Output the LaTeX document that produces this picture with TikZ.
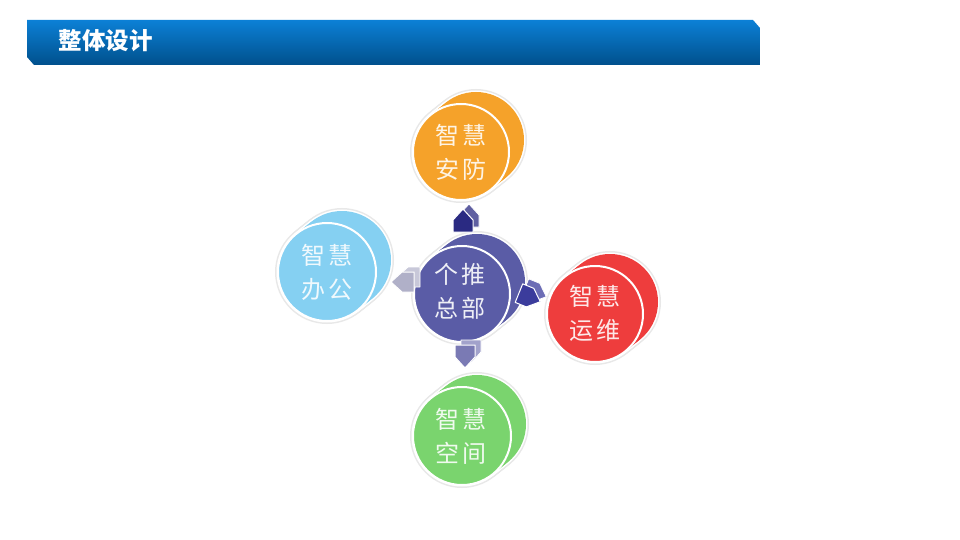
\documentclass[tikz,border=0pt]{standalone}
\usepackage{fontspec}
\newfontfamily\cjk{Noto Sans CJK SC}
\definecolor{cOrange}{HTML}{F5A22A}
\definecolor{cBlue}{HTML}{85D0F2}
\definecolor{cPurple}{HTML}{5A5CA6}
\definecolor{cRed}{HTML}{EE3D3D}
\definecolor{cGreen}{HTML}{7AD46E}
\definecolor{barTop}{HTML}{0C80D6}
\definecolor{barBot}{HTML}{00508C}
\definecolor{arNavy}{HTML}{2A2A82}
\definecolor{arNavy2}{HTML}{3B3C9C}
\definecolor{arLight}{HTML}{B0B0C8}
\definecolor{arMid}{HTML}{7A7AB4}
\tikzset{
  x=1pt, y=-1pt,
  ctext/.style={align=center, font=\cjk\fontsize{24}{34}\selectfont},
  pics/cyl/.style args={#1/#2}{code={
    \foreach \t in {0,0.2,...,1.01}
      \draw[gray!18, line width=6pt] (15*\t,-12*\t) circle (#2);
    \foreach \t in {0,0.2,...,1.01}
      \draw[white, line width=3pt] (15*\t,-12*\t) circle (#2);
    \foreach \t in {0,0.2,...,1.01}
      \fill[#1] (15*\t,-12*\t) circle (#2);
    \fill[#1] (0,0) circle (#2);
    \draw[white, line width=2pt] (0,0) circle (#2);
  }},
  pics/arrside/.style={code={
    \filldraw[fill=#1, draw=white, line width=0.8pt, line join=round]
      (-10,13) -- (-10,1) -- (0,-10) -- (10,1) -- (10,13) -- cycle;
  }},
  pics/arrfront/.style={code={
    \filldraw[fill=#1, draw=white, line width=1pt, line join=round]
      (-10,13) -- (-10,1) -- (0,-10) -- (10,1) -- (10,13) -- cycle;
  }}
}
\begin{document}
\begin{tikzpicture}
\useasboundingbox (0,0) rectangle (960,540);
\fill[white] (0,0) rectangle (960,540);
% title bar
\shade[top color=barTop, bottom color=barBot]
  (27,20) -- (753,20) -- (760,28) -- (760,65) -- (34,65) -- (27,57) -- cycle;
\node[anchor=west, text=white, font=\cjk\bfseries\fontsize{23.5}{26}\selectfont] (title) at (55,41) {整体设计};
% cylinders
\pic at (461,152) {cyl=cOrange/48};
\pic at (327,272) {cyl=cBlue/49};
\pic at (462,294) {cyl=cPurple/48};
\pic at (595,314) {cyl=cRed/48};
\pic at (462,436) {cyl=cGreen/49};
% texts
\node[ctext, text=white!88!cOrange] (anfang) at (461,152) {智\hspace{4pt}慧\\安\hspace{4pt}防};
\node[ctext, text=white!88!cBlue] (bangong) at (327,272) {智\hspace{4pt}慧\\办\hspace{4pt}公};
\node[ctext, text=white!90!cPurple] (zongbu) at (460,291) {个\hspace{4pt}推\\总\hspace{4pt}部};
\node[ctext, text=white!88!cRed] (yunwei) at (595,313) {智\hspace{4pt}慧\\运\hspace{4pt}维};
\node[ctext, text=white!88!cGreen] (kongjian) at (461,436) {智\hspace{4pt}慧\\空\hspace{4pt}间};
% arrows (side face, then front face)
\pic at (469,214) {arrside=arNavy!75!white};
\pic at (463,219) {arrfront=arNavy};
\pic[rotate=90] at (407,277) {arrside=arLight!70!white};
\pic[rotate=90] at (401,282) {arrfront=arLight};
\pic[rotate=-112] at (537,293) {arrside=arNavy2!75!white};
\pic[rotate=-112] at (531,298) {arrfront=arNavy2};
\pic[rotate=180] at (471,353) {arrside=arMid!70!white};
\pic[rotate=180] at (465,358) {arrfront=arMid};
\end{tikzpicture}
\end{document}
